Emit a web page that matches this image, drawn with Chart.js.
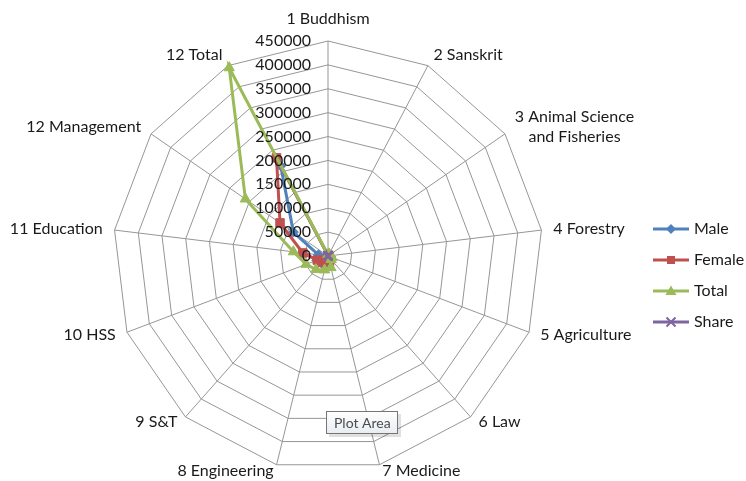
<!DOCTYPE html>
<html>
<head>
<meta charset="utf-8">
<script src="https://cdn.jsdelivr.net/npm/chart.js@4/dist/chart.umd.min.js"></script>
<style>
  html, body { margin: 0; padding: 0; background: #ffffff; }
  #chart { display: block; }
</style>
</head>
<body>
<canvas id="chart" width="746" height="481"></canvas>
<script>
// categories on the spokes, clockwise from the top
var categories = ['1 Buddhism', '2 Sanskrit', ['3 Animal Science', 'and Fisheries'], '4 Forestry',
    '5 Agriculture', '6 Law', '7 Medicine', '8 Engineering', '9 S&T', '10 HSS',
    '11 Education', '12 Management', '12 Total']

// values (estimates)
var male   = [1500, 3000, 2000, 2500, 6000, 6000, 12000, 20000, 20000, 25000, 20000, 88000, 213000]
var female = [1000, 2000, 1000, 800, 3000, 4000, 13000, 10000, 18000, 24000, 53000, 122000, 232000]
var total  = [2500, 5000, 3000, 3300, 9000, 10000, 25000, 30000, 38000, 49000, 73000, 210000, 445000]
var share  = [0.6, 1.1, 0.7, 0.7, 2, 2.2, 5.6, 6.7, 8.5, 11, 16.4, 47.2, 100]

var seriesNames = ['Male', 'Female', 'Total', 'Share']
var axisMin = 0
var axisMax = 450000
var axisStep = 50000

var BLUE = '#4f81bd', RED = '#c0504d', GREEN = '#9bbb59', PURPLE = '#8064a2'
var GRID = '#969696'
var FONT = 'Lato, "Open Sans", sans-serif'

// little line + marker picture for the legend, like Excel draws it
function legendIcon(color, marker) {
    var c = document.createElement('canvas')
    c.width = 36
    c.height = 14
    var g = c.getContext('2d')
    g.strokeStyle = color
    g.fillStyle = color
    g.lineWidth = 3
    g.beginPath()
    g.moveTo(0, 7)
    g.lineTo(36, 7)
    g.stroke()
    g.beginPath()
    if (marker == 'diamond') {
        g.moveTo(18, 2); g.lineTo(23, 7); g.lineTo(18, 12); g.lineTo(13, 7); g.closePath(); g.fill()
    } else if (marker == 'square') {
        g.fillRect(14, 3, 8, 8)
    } else if (marker == 'triangle') {
        g.moveTo(18, 1.5); g.lineTo(23.5, 11); g.lineTo(12.5, 11); g.closePath(); g.fill()
    } else {
        g.lineWidth = 2
        g.moveTo(13.5, 2.5); g.lineTo(22.5, 11.5)
        g.moveTo(22.5, 2.5); g.lineTo(13.5, 11.5)
        g.stroke()
    }
    return c
}

var legendIcons = [legendIcon(BLUE, 'diamond'), legendIcon(RED, 'square'),
    legendIcon(GREEN, 'triangle'), legendIcon(PURPLE, 'cross')]

// spoke labels, placed next to the outer ring like Excel does
var spokeLabels = {
    id: 'spokeLabels',
    afterDraw: function (chart) {
        var scale = chart.scales.r
        var ctx = chart.ctx
        var R = scale.drawingArea
        var lh = 20
        ctx.save()
        ctx.font = '16px ' + FONT
        ctx.fillStyle = '#1a1a1a'
        ctx.textAlign = 'center'
        ctx.textBaseline = 'middle'
        categories.forEach(function (label, i) {
            var lines = [].concat(label)
            var v = scale.getPointPosition(i, R)
            var a = scale.getIndexAngle(i)
            var s = Math.sin(a), c = Math.cos(a)
            var blockW = Math.max.apply(null, lines.map(function (l) { return ctx.measureText(l).width }))
            var left, yc
            if (Math.abs(s) < 0.05) {
                left = v.x - blockW / 2
                yc = v.y - 12 - lh / 2
            } else {
                var x = v.x + 12 * s
                left = s > 0 ? x : x - blockW
                yc = v.y - (c > 0 ? 12 * c : 6 * c)
            }
            lines.forEach(function (l, k) {
                ctx.fillText(l, left + blockW / 2, yc + (k - (lines.length - 1) / 2) * lh)
            })
        })
        ctx.restore()
    }
}

// value labels to the left of the vertical axis
var axisLabels = {
    id: 'axisLabels',
    afterDatasetsDraw: function (chart) {
        var scale = chart.scales.r
        var ctx = chart.ctx
        ctx.save()
        ctx.font = '16px ' + FONT
        ctx.fillStyle = '#1a1a1a'
        ctx.textAlign = 'right'
        ctx.textBaseline = 'middle'
        scale.ticks.forEach(function (t) {
            var y = scale.yCenter - scale.getDistanceFromCenterForValue(t.value)
            ctx.fillText(String(t.value), scale.xCenter - 17, y)
        })
        ctx.restore()
    }
}

// the "Plot Area" hover tip that is in the screenshot
var plotAreaTip = {
    id: 'plotAreaTip',
    afterDraw: function (chart) {
        var ctx = chart.ctx
        ctx.save()
        ctx.fillStyle = 'rgba(0,0,0,0.12)'
        ctx.fillRect(329, 414, 72, 23)
        var grad = ctx.createLinearGradient(0, 411, 0, 434)
        grad.addColorStop(0, '#ffffff')
        grad.addColorStop(1, '#e8ecf2')
        ctx.fillStyle = grad
        ctx.fillRect(326.5, 411.5, 71, 22)
        ctx.strokeStyle = '#767676'
        ctx.lineWidth = 1
        ctx.strokeRect(326.5, 411.5, 71, 22)
        ctx.font = '14px ' + FONT
        ctx.fillStyle = '#4c4c4c'
        ctx.textBaseline = 'middle'
        ctx.fillText('Plot Area', 334, 423)
        ctx.restore()
    }
}

function makeSet(name, data, color, style, radius, order) {
    return {
        label: name,
        data: data,
        borderColor: color,
        backgroundColor: color,
        borderWidth: 3,
        fill: false,
        tension: 0,
        pointStyle: style,
        pointRadius: radius,
        pointBorderWidth: style == 'crossRot' ? 2 : 1,
        pointBackgroundColor: color,
        pointBorderColor: color,
        order: order
    }
}

function drawChart() {
    var ctx = document.getElementById('chart')
    new Chart(ctx, {
        type: 'radar',
        data: {
            labels: categories,
            datasets: [
                makeSet(seriesNames[0], male, BLUE, 'rectRot', 5, 4),
                makeSet(seriesNames[1], female, RED, 'rect', 6, 3),
                makeSet(seriesNames[2], total, GREEN, 'triangle', 6, 2),
                makeSet(seriesNames[3], share, PURPLE, 'crossRot', 6, 1)
            ]
        },
        options: {
            responsive: false,
            animation: false,
            layout: { padding: { left: 15, right: 0, top: 41, bottom: 10 } },
            scales: {
                r: {
                    min: axisMin,
                    max: axisMax,
                    ticks: { display: false, stepSize: axisStep },
                    pointLabels: { display: false },
                    grid: { color: GRID, lineWidth: 1 },
                    angleLines: { color: GRID, lineWidth: 1 }
                }
            },
            plugins: {
                tooltip: { enabled: false },
                legend: {
                    position: 'right',
                    maxWidth: 105,
                    title: { display: true, text: '', padding: 0, font: { size: 30, lineHeight: 1.3 } },
                    labels: {
                        usePointStyle: true,
                        pointStyleWidth: 30,
                        boxHeight: 16,
                        padding: 15,
                        color: '#1a1a1a',
                        font: { family: FONT, size: 16 },
                        sort: function (a, b) { return a.datasetIndex - b.datasetIndex },
                        generateLabels: function (chart) {
                            var items = Chart.defaults.plugins.legend.labels.generateLabels(chart)
                            items.forEach(function (it) {
                                it.pointStyle = legendIcons[it.datasetIndex]
                            })
                            return items
                        }
                    }
                }
            }
        },
        plugins: [axisLabels, spokeLabels, plotAreaTip]
    })
}

if (document.fonts && document.fonts.load) {
    document.fonts.load('16px Lato').then(drawChart, drawChart)
} else {
    drawChart()
}
</script>
</body>
</html>
